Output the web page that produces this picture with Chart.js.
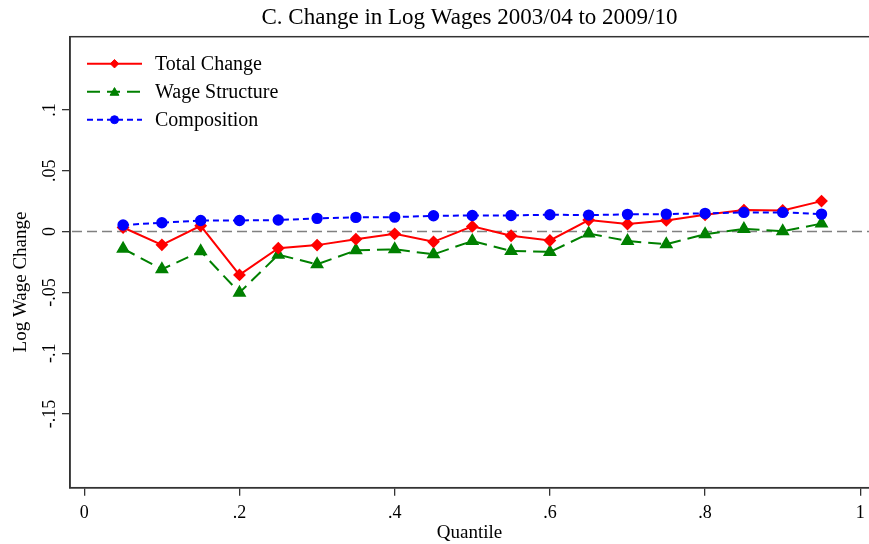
<!DOCTYPE html>
<html>
<head>
<meta charset="utf-8">
<script src="https://cdn.jsdelivr.net/npm/chart.js@4/dist/chart.umd.min.js"></script>
<style>
  html, body { margin: 0; padding: 0; background: #fff; }
  #chart { display: block; }
</style>
</head>
<body>
<canvas id="chart" width="869" height="544"></canvas>
<script>
// data
const quantiles = [0.05, 0.10, 0.15, 0.20, 0.25, 0.30, 0.35, 0.40, 0.45, 0.50,
                   0.55, 0.60, 0.65, 0.70, 0.75, 0.80, 0.85, 0.90, 0.95];
const totalChange = [0.0034, -0.0109, 0.0048, -0.0356, -0.0136, -0.0111, -0.0062, -0.0018, -0.0084, 0.0043,
                     -0.0034, -0.0073, 0.0095, 0.0062, 0.0092, 0.0139, 0.0177, 0.0174, 0.0251];
const wageStructure = [-0.0140, -0.0310, -0.0162, -0.0502, -0.0190, -0.0269, -0.0154, -0.0145, -0.0187, -0.0077,
                       -0.0159, -0.0167, -0.0016, -0.0077, -0.0104, -0.0022, 0.0022, 0.0003, 0.0066];
const composition = [0.0054, 0.0073, 0.0092, 0.0092, 0.0095, 0.0109, 0.0117, 0.0119, 0.0130, 0.0133,
                     0.0133, 0.0139, 0.0136, 0.0142, 0.0144, 0.0150, 0.0158, 0.0158, 0.0144];
const seriesNames = ['Total Change', 'Wage Structure', 'Composition'];
const xTicks = [0, 0.2, 0.4, 0.6, 0.8, 1];
const yTicks = [-0.15, -0.1, -0.05, 0, 0.05, 0.1];

const SERIF = "'Liberation Serif', 'Times New Roman', serif";

function fmt(v) {
    if (Math.abs(v) < 1e-9) return '0';
    let s = String(+v.toFixed(4));
    return s.replace('0.', '.');
}

function pts(ys) {
    return quantiles.map((q, i) => ({ x: q, y: ys[i] }));
}

// box, zero line, rotated y labels, y title and the inset legend
const decor = {
    id: 'decor',
    beforeDatasetsDraw(chart) {
        const { ctx, chartArea: a, scales } = chart;
        const y0 = scales.y.getPixelForValue(0);
        ctx.save();
        ctx.strokeStyle = '#808080';
        ctx.lineWidth = 1.5;
        ctx.setLineDash([10, 5]);
        ctx.beginPath();
        ctx.moveTo(a.left + 2, y0);
        ctx.lineTo(a.right, y0);
        ctx.stroke();
        ctx.setLineDash([]);
        ctx.strokeStyle = '#333';
        ctx.lineWidth = 1.5;
        ctx.strokeRect(a.left, a.top, a.right - a.left + 5, a.bottom - a.top);
        ctx.restore();
    },
    afterDraw(chart) {
        const { ctx, chartArea: a, scales } = chart;
        ctx.save();
        ctx.fillStyle = '#000';
        // y tick labels, rotated
        ctx.font = '18px ' + SERIF;
        ctx.textAlign = 'center';
        ctx.textBaseline = 'alphabetic';
        yTicks.forEach(v => {
            const py = scales.y.getPixelForValue(v);
            ctx.save();
            ctx.translate(55, py);
            ctx.rotate(-Math.PI / 2);
            ctx.fillText(fmt(v), 0, 0);
            ctx.restore();
        });
        // y title
        ctx.font = '19px ' + SERIF;
        ctx.save();
        ctx.translate(26, 282);
        ctx.rotate(-Math.PI / 2);
        ctx.fillText('Log Wage Change', 0, 0);
        ctx.restore();

        // legend
        const rows = [a.top + 27, a.top + 55, a.top + 83];
        chart.data.datasets.forEach((ds, i) => {
            const y = rows[i];
            const x1 = a.left + 17, x2 = a.left + 72;
            ctx.strokeStyle = ds.borderColor;
            ctx.lineWidth = ds.borderWidth;
            ctx.setLineDash(ds.borderDash || []);
            ctx.beginPath();
            ctx.moveTo(x1, y);
            ctx.lineTo(x2, y);
            ctx.stroke();
            ctx.setLineDash([]);
            ctx.fillStyle = ds.pointBackgroundColor;
            ctx.strokeStyle = ds.pointBorderColor;
            ctx.lineWidth = 1;
            Chart.helpers.drawPoint(ctx, {
                pointStyle: ds.pointStyle,
                rotation: 0,
                borderWidth: 1,
                radius: ds.pointRadius * 0.85
            }, (x1 + x2) / 2, y + (ds.pointStyle === 'triangle' ? 1 : 0));
            ctx.fillStyle = '#000';
            ctx.font = '20px ' + SERIF;
            ctx.textAlign = 'left';
            ctx.textBaseline = 'middle';
            ctx.fillText(ds.label, a.left + 85, y + 1);
        });
        ctx.restore();
    }
};

new Chart(document.getElementById('chart'), {
    type: 'line',
    data: {
        datasets: [{
            label: seriesNames[0],
            data: pts(totalChange),
            borderColor: '#ff0000',
            backgroundColor: '#ff0000',
            pointBackgroundColor: '#ff0000',
            pointBorderColor: '#ff0000',
            borderWidth: 2,
            pointStyle: 'rectRot',
            pointRadius: 5,
            order: 1
        }, {
            label: seriesNames[1],
            data: pts(wageStructure),
            borderColor: '#008000',
            backgroundColor: '#008000',
            pointBackgroundColor: '#008000',
            pointBorderColor: '#008000',
            borderWidth: 2,
            borderDash: [13, 7],
            pointStyle: 'triangle',
            pointRadius: 6,
            order: 2
        }, {
            label: seriesNames[2],
            data: pts(composition),
            borderColor: '#0000ff',
            backgroundColor: '#0000ff',
            pointBackgroundColor: '#0000ff',
            pointBorderColor: '#0000ff',
            borderWidth: 2,
            borderDash: [6, 4],
            pointStyle: 'circle',
            pointRadius: 4.7,
            order: 0
        }]
    },
    options: {
        responsive: false,
        animation: false,
        devicePixelRatio: 1,
        layout: { autoPadding: false, padding: { left: 0, right: 0, top: 0, bottom: 0 } },
        plugins: {
            legend: { display: false },
            tooltip: { enabled: false },
            title: {
                display: true,
                fullSize: false,
                text: 'C. Change in Log Wages 2003/04 to 2009/10',
                color: '#000',
                font: { family: SERIF, size: 23, weight: 'normal', lineHeight: 1.2 },
                padding: { top: 4, bottom: 5.1 }
            }
        },
        scales: {
            x: {
                type: 'linear',
                min: -0.0184,
                max: 1.0112,
                afterBuildTicks: s => { s.ticks = xTicks.map(v => ({ value: v })); },
                afterFit: s => { s.height = 56.3; s.paddingLeft = 0; s.paddingRight = 0; },
                ticks: {
                    callback: v => fmt(v),
                    color: '#000',
                    font: { family: SERIF, size: 18 },
                    padding: 7,
                    maxRotation: 0,
                    autoSkip: false
                },
                grid: {
                    drawOnChartArea: false,
                    drawTicks: true,
                    tickLength: 8,
                    color: '#333',
                    lineWidth: 1.3
                },
                border: { display: true, color: '#333', width: 1.5 },
                title: {
                    display: true,
                    text: 'Quantile',
                    color: '#000',
                    font: { family: SERIF, size: 19 },
                    padding: { top: 0, bottom: 0 }
                }
            },
            y: {
                min: -0.2106,
                max: 0.1603,
                afterBuildTicks: s => { s.ticks = yTicks.map(v => ({ value: v })); },
                afterFit: s => { s.width = 70; s.paddingTop = 0; s.paddingBottom = 0; },
                ticks: { display: false },
                grid: {
                    drawOnChartArea: false,
                    drawTicks: true,
                    tickLength: 8,
                    color: '#333',
                    lineWidth: 1.3
                },
                border: { display: true, color: '#333', width: 1.5 }
            }
        }
    },
    plugins: [decor]
});
</script>
</body>
</html>
